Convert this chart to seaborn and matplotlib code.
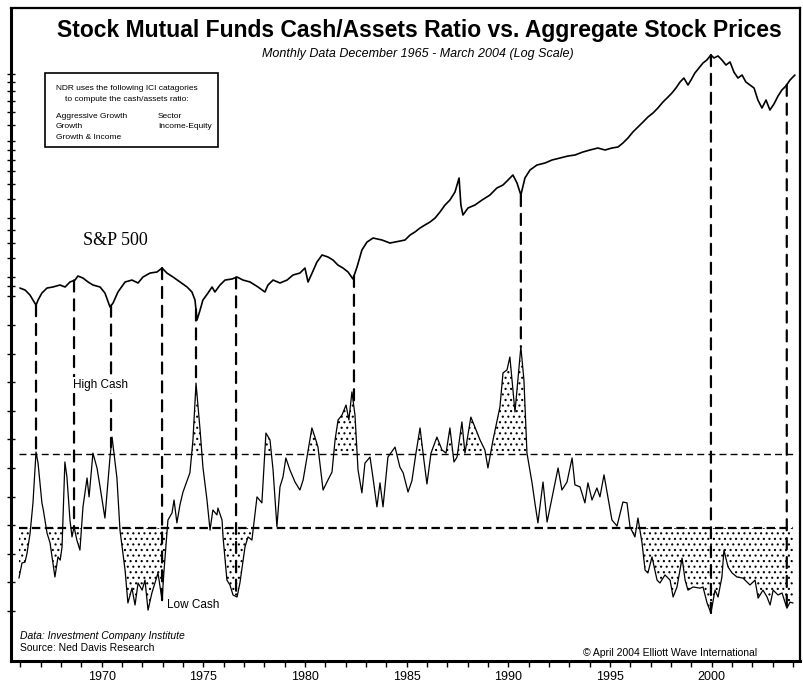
import numpy as np
import matplotlib
matplotlib.use("Agg")
import matplotlib.pyplot as plt
from matplotlib.patches import ConnectionPatch, Rectangle
import seaborn as sns

# ----- S&P 500 (monthly, log scale) ------------------------------------------
sp_years = [1965.98, 1966.23, 1966.47, 1966.62, 1966.77, 1966.87, 1967.06, 1967.31, 1967.60, 1967.95,
            1968.20, 1968.44, 1968.69, 1968.83, 1969.08, 1969.33, 1969.57, 1969.92, 1970.16, 1970.41,
            1970.56, 1970.80, 1971.15, 1971.49, 1971.79, 1972.03, 1972.38, 1972.72, 1972.97, 1973.21,
            1973.51, 1973.85, 1974.20, 1974.44, 1974.59, 1974.69, 1974.84, 1974.98, 1975.23, 1975.43,
            1975.57, 1975.82, 1976.07, 1976.41, 1976.66, 1976.95, 1977.30, 1977.69, 1978.03, 1978.18,
            1978.43, 1978.77, 1979.12, 1979.41, 1979.75, 1980.00, 1980.15, 1980.35, 1980.59, 1980.84,
            1981.13, 1981.38, 1981.62, 1981.87, 1982.12, 1982.36, 1982.56, 1982.80, 1983.05, 1983.35,
            1983.79, 1984.18, 1984.43, 1984.67, 1984.92, 1985.17, 1985.41, 1985.66, 1985.90, 1986.15,
            1986.40, 1986.64, 1986.89, 1987.13, 1987.38, 1987.58, 1987.67, 1987.77, 1988.02, 1988.36,
            1988.71, 1989.10, 1989.44, 1989.74, 1989.99, 1990.23, 1990.43, 1990.62, 1990.82, 1991.07,
            1991.41, 1991.81, 1992.15, 1992.54, 1992.94, 1993.28, 1993.67, 1994.02, 1994.41, 1994.76,
            1995.10, 1995.40, 1995.64, 1995.89, 1996.13, 1996.38, 1996.63, 1996.87, 1997.12, 1997.36,
            1997.61, 1997.86, 1998.05, 1998.25, 1998.45, 1998.64, 1998.84, 1998.99, 1999.18, 1999.38,
            1999.58, 1999.77, 1999.97, 2000.12, 2000.32, 2000.51, 2000.71, 2000.91, 2001.10, 2001.30,
            2001.50, 2001.69, 2001.89, 2002.09, 2002.28, 2002.48, 2002.68, 2002.87, 2003.07, 2003.27,
            2003.46, 2003.66, 2003.86, 2004.10]
sp_values = [87.8, 85.8, 80.9, 76.2, 71.8, 76.2, 82.8, 87.8, 88.9, 91.0,
             88.9, 94.3, 96.5, 101.2, 98.8, 94.3, 91.0, 88.9, 82.8, 70.2,
             73.6, 83.8, 94.3, 96.5, 93.2, 100.0, 104.8, 106.1, 111.2, 104.8,
             100.0, 94.3, 88.9, 83.8, 76.2, 60.2, 67.7, 76.2, 82.8, 88.9,
             83.8, 91.0, 96.5, 97.7, 100.0, 96.5, 94.3, 88.9, 83.8, 91.0,
             96.5, 93.2, 96.5, 102.4, 104.8, 111.2, 94.3, 104.8, 119.4, 129.7,
             126.7, 122.2, 115.2, 111.2, 106.1, 97.7, 112.5, 137.5, 151.1, 158.5,
             154.8, 149.4, 151.1, 152.9, 154.8, 164.2, 170.2, 178.4, 184.8, 191.4,
             200.7, 215.4, 234.0, 248.2, 272.9, 321.9, 234.0, 208.0, 225.9, 234.0,
             248.2, 263.4, 286.1, 296.4, 314.4, 333.6, 303.5, 263.4, 321.9, 353.8,
             375.3, 384.3, 398.1, 407.6, 417.4, 422.3, 437.5, 448.1, 458.7, 448.1,
             458.7, 464.2, 486.6, 516.4, 554.2, 587.8, 623.6, 661.4, 693.4, 735.6,
             789.8, 837.7, 878.1, 931.7, 1000.0, 1048.0, 965.2, 1024.0, 1112.0, 1180.0,
             1252.0, 1297.0, 1376.0, 1328.0, 1360.0, 1297.0, 1222.0, 1267.0, 1125.0, 1048.0,
             1086.0, 1000.0, 965.2, 931.7, 808.5, 735.6, 808.5, 718.4, 771.6, 847.6,
             909.9, 954.0, 1024.0, 1086.0]

# ----- Stock mutual funds cash/assets ratio (%) ------------------------------
cash_years = [1965.93, 1966.08, 1966.23, 1966.33, 1966.48, 1966.62, 1966.77, 1966.87, 1967.06, 1967.13,
              1967.31, 1967.46, 1967.70, 1967.85, 1967.96, 1968.05, 1968.19, 1968.29, 1968.44, 1968.54,
              1968.64, 1968.78, 1968.93, 1969.08, 1969.28, 1969.38, 1969.57, 1969.77, 1969.92, 1970.16,
              1970.41, 1970.51, 1970.75, 1970.90, 1971.15, 1971.29, 1971.49, 1971.64, 1971.79, 1971.99,
              1972.13, 1972.28, 1972.47, 1972.62, 1972.77, 1972.97, 1973.06, 1973.26, 1973.46, 1973.56,
              1973.70, 1973.85, 1974.00, 1974.34, 1974.49, 1974.64, 1974.84, 1974.98, 1975.18, 1975.33,
              1975.47, 1975.67, 1975.72, 1975.92, 1975.97, 1976.16, 1976.31, 1976.46, 1976.66, 1976.80,
              1977.05, 1977.20, 1977.39, 1977.64, 1977.88, 1978.08, 1978.28, 1978.43, 1978.62, 1978.77,
              1978.92, 1979.06, 1979.26, 1979.51, 1979.75, 1979.91, 1980.10, 1980.34, 1980.49, 1980.64,
              1980.89, 1981.13, 1981.33, 1981.48, 1981.63, 1981.82, 1982.02, 1982.16, 1982.31, 1982.46,
              1982.61, 1982.80, 1982.95, 1983.20, 1983.34, 1983.54, 1983.69, 1983.84, 1984.08, 1984.43,
              1984.67, 1984.83, 1985.07, 1985.26, 1985.46, 1985.66, 1985.85, 1986.00, 1986.20, 1986.49,
              1986.74, 1986.94, 1987.13, 1987.33, 1987.48, 1987.72, 1987.87, 1988.16, 1988.36, 1988.61,
              1988.85, 1989.00, 1989.25, 1989.59, 1989.74, 1989.94, 1990.08, 1990.33, 1990.62, 1990.77,
              1990.92, 1991.17, 1991.31, 1991.46, 1991.71, 1991.91, 1992.20, 1992.45, 1992.64, 1992.89,
              1993.14, 1993.28, 1993.53, 1993.77, 1993.92, 1994.12, 1994.36, 1994.51, 1994.71, 1994.90,
              1995.10, 1995.35, 1995.64, 1995.84, 1995.99, 1996.23, 1996.38, 1996.58, 1996.73, 1996.87,
              1997.07, 1997.32, 1997.46, 1997.71, 1997.96, 1998.11, 1998.30, 1998.55, 1998.70, 1998.84,
              1999.09, 1999.43, 1999.58, 1999.78, 1999.97, 2000.17, 2000.32, 2000.51, 2000.61, 2000.81,
              2001.01, 2001.25, 2001.55, 2001.89, 2002.14, 2002.29, 2002.53, 2002.73, 2002.88, 2003.03,
              2003.27, 2003.47, 2003.61, 2003.71, 2003.86, 2004.01]
cash_values = [5.15, 5.68, 5.71, 6.03, 6.73, 7.78, 9.56, 9.17, 7.78, 7.53,
               6.73, 6.38, 5.19, 5.89, 5.78, 6.24, 9.21, 8.69, 7.18, 6.59,
               6.94, 6.48, 6.13, 7.64, 8.65, 7.99, 9.52, 9.00, 8.34, 7.25,
               9.38, 10.08, 8.65, 6.83, 5.43, 4.28, 4.80, 4.21, 4.98, 4.73,
               5.08, 4.03, 4.63, 4.98, 5.33, 4.38, 5.36, 7.18, 7.43, 7.88,
               7.08, 7.71, 8.16, 8.83, 9.98, 11.97, 10.33, 9.03, 7.88, 6.83,
               7.53, 7.36, 7.60, 7.18, 6.59, 5.08, 4.91, 4.56, 4.49, 4.98,
               6.24, 6.59, 6.48, 7.99, 7.78, 10.22, 9.98, 8.93, 6.95, 8.34,
               8.69, 9.35, 8.93, 8.51, 8.23, 8.58, 9.38, 10.40, 10.08, 9.73,
               8.23, 8.58, 8.86, 9.98, 10.68, 10.85, 11.20, 10.68, 11.66, 10.85,
               8.93, 8.13, 9.17, 9.38, 8.69, 7.64, 8.48, 7.64, 9.38, 9.73,
               9.03, 8.83, 8.16, 8.55, 9.52, 10.40, 9.28, 8.44, 9.52, 10.08,
               9.63, 9.52, 10.40, 9.21, 9.38, 10.61, 9.52, 10.78, 10.43, 9.98,
               9.63, 9.00, 9.98, 11.13, 12.32, 12.43, 12.88, 10.96, 13.23, 12.08,
               9.52, 8.48, 7.78, 7.08, 8.51, 7.11, 8.13, 9.00, 8.23, 8.51,
               9.35, 8.41, 8.34, 7.78, 8.48, 7.88, 8.30, 7.99, 8.76, 7.99,
               7.18, 6.97, 7.81, 7.78, 6.94, 6.59, 7.25, 6.38, 5.43, 5.33,
               5.89, 5.08, 4.98, 5.26, 5.08, 4.49, 4.84, 5.85, 5.08, 4.73,
               4.84, 4.80, 4.84, 4.28, 3.93, 4.73, 4.49, 5.19, 6.13, 5.54,
               5.33, 5.19, 5.15, 4.91, 5.08, 4.45, 4.73, 4.49, 4.21, 4.73,
               4.56, 4.63, 4.31, 4.10, 4.31, 4.28]

# market turning points marked with the dashed verticals
turn_years = [1966.77, 1968.64, 1970.46, 1972.97, 1974.64, 1976.61, 1982.41, 1990.62, 1999.97, 2003.70]

HIGH_CASH = 9.5
LOW_CASH = 6.9

year_ticks = [1970, 1975, 1980, 1985, 1990, 1995, 2000]
year_minor = list(range(1966, 2005))
sp_ticks = [80, 90, 100, 125, 150, 175, 200, 250, 300, 350, 400, 450, 500, 600, 700, 800, 900, 1000, 1100]
cash_ticks = list(range(4, 15))

sns.set_theme(style="white")
plt.rcParams["font.family"] = ["Liberation Sans", "DejaVu Sans"]
plt.rcParams["text.color"] = "black"
plt.rcParams["xtick.color"] = "black"
plt.rcParams["ytick.color"] = "black"
plt.rcParams["hatch.linewidth"] = 0.8

fig = plt.figure(figsize=(8.04, 6.84), dpi=100)
ax = fig.add_axes([0.0137, 0.0336, 0.9813, 0.9547])
ax2 = ax.twinx()

# ----- S&P 500 ---------------------------------------------------------------
sns.lineplot(x=sp_years, y=sp_values, ax=ax, color="black", lw=1.2,
             estimator=None, sort=False)
ax.set_yscale("log")
ax.set_ylim(1.074, 2396)
ax.set_xlim(1965.54, 2004.35)

# ----- Cash ratio -------------------------------------------------------------
sns.lineplot(x=cash_years, y=cash_values, ax=ax2, color="black", lw=0.9,
             estimator=None, sort=False)
ax2.set_ylim(2.252, 25.08)

cy = np.array(cash_years)
cv = np.array(cash_values)
ax2.fill_between(cy, cv, HIGH_CASH, where=cv > HIGH_CASH, interpolate=True,
                 facecolor="none", edgecolor="black", hatch="...", linewidth=0)
ax2.fill_between(cy, cv, LOW_CASH, where=cv < LOW_CASH, interpolate=True,
                 facecolor="none", edgecolor="black", hatch="...", linewidth=0)
ax2.hlines(HIGH_CASH, cy[0], cy[-1], colors="black", lw=1.0, linestyles=(0, (5, 3)))
ax2.hlines(LOW_CASH, cy[0], cy[-1], colors="black", lw=1.6, linestyles=(0, (3.8, 2)))

# dashed verticals from the S&P line down to the cash line
sp_at = np.interp(turn_years, sp_years, sp_values)
cash_at = np.interp(turn_years, cash_years, cash_values)
for t, s, c in zip(turn_years, sp_at, cash_at):
    con = ConnectionPatch(xyA=(t, s), coordsA=ax.transData,
                          xyB=(t, c), coordsB=ax2.transData,
                          color="black", lw=1.6, linestyle=(0, (5, 3.5)))
    ax2.add_artist(con)

# ----- Axes cosmetics -----------------------------------------------------------
ax.set_xlabel("")
ax.set_ylabel("")
ax2.set_ylabel("")
ax.yaxis.set_minor_locator(plt.NullLocator())
ax.set_yticks(sp_ticks)
ax.set_yticklabels([])
ax2.set_yticks(cash_ticks)
ax2.set_yticklabels([])
ax.tick_params(axis="y", which="major", direction="inout", length=6, width=1,
               color="black", left=True, labelleft=False)
ax2.tick_params(axis="y", direction="inout", length=6, width=1, color="black",
                left=True, right=False, labelleft=False, labelright=False)
ax.set_xticks(year_ticks)
ax.set_xticks(year_minor, minor=True)
ax.tick_params(axis="x", which="both", direction="out", length=4, width=1,
               color="black", bottom=True, labelsize=9, pad=3, labelcolor="black")

for name, spine in ax.spines.items():
    spine.set_color("black")
    spine.set_linewidth(2.2 if name in ("left", "bottom") else 1.6)
for spine in ax2.spines.values():
    spine.set_visible(False)

# ----- Text -------------------------------------------------------------------------
tr = ax2.transAxes
ax2.text(0.518, 0.966, "Stock Mutual Funds Cash/Assets Ratio vs. Aggregate Stock Prices",
         transform=tr, ha="center", va="center", fontsize=16.5, fontweight="bold")
ax2.text(0.515, 0.930, "Monthly Data December 1965 - March 2004 (Log Scale)",
         transform=tr, ha="center", va="center", fontsize=9, style="italic")

ax2.add_patch(Rectangle((0.0431, 0.7871), 0.2193, 0.1133, transform=tr,
                        facecolor="white", edgecolor="black", lw=1.2, zorder=4))
ax2.text(0.1464, 0.876, "NDR uses the following ICI catagories", transform=tr,
         ha="center", va="center", fontsize=6, zorder=5)
ax2.text(0.1464, 0.860, "to compute the cash/assets ratio:", transform=tr,
         ha="center", va="center", fontsize=6, zorder=5)
for i, name in enumerate(["Aggressive Growth", "Growth", "Growth & Income"]):
    ax2.text(0.057, 0.8335 - i * 0.0157, name, transform=tr,
             ha="left", va="center", fontsize=6, zorder=5)
for i, name in enumerate(["Sector", "Income-Equity"]):
    ax2.text(0.1863, 0.8335 - i * 0.0157, name, transform=tr,
             ha="left", va="center", fontsize=6, zorder=5)

ax2.text(0.0913, 0.6447, "S&P 500", transform=tr, ha="left", va="center",
         fontsize=13, family=["Liberation Serif", "DejaVu Serif"])
ax2.text(0.0786, 0.4227, "High Cash", transform=tr, ha="left", va="center",
         fontsize=8.5, zorder=6,
         bbox=dict(facecolor="white", edgecolor="none", pad=1.5))
ax2.text(0.1977, 0.0858, "Low Cash", transform=tr, ha="left", va="center",
         fontsize=8.5, zorder=6)

ax2.text(0.0114, 0.0383, "Data: Investment Company Institute", transform=tr,
         ha="left", va="center", fontsize=7.5, style="italic")
ax2.text(0.0114, 0.0199, "Source: Ned Davis Research", transform=tr,
         ha="left", va="center", fontsize=7.5)
ax2.text(0.725, 0.0123, "\u00a9 April 2004 Elliott Wave International", transform=tr,
         ha="left", va="center", fontsize=7.5)

fig.savefig("out.png", dpi=100)
plt.close(fig)
